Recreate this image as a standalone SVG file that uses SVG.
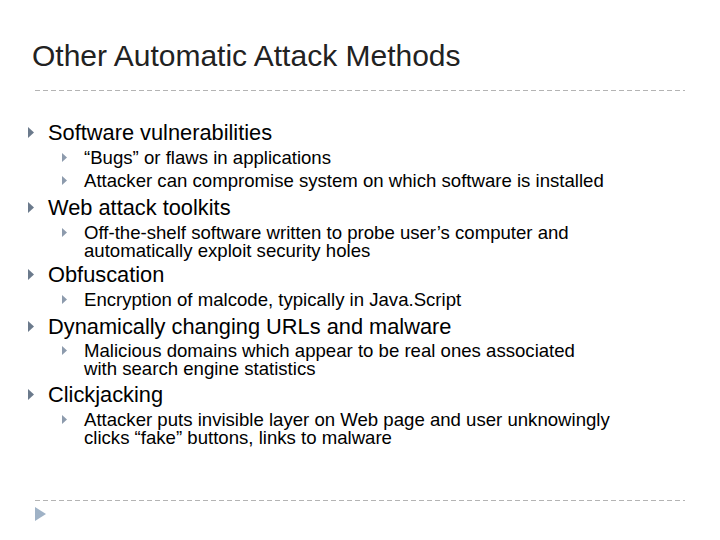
<svg xmlns="http://www.w3.org/2000/svg" width="720" height="540" viewBox="0 0 720 540">
<style>
text{font-family:"Liberation Sans",Arial,sans-serif;fill:#000}
.t{font-size:30px;fill:#222}
.l1{font-size:21.8px}
.l2{font-size:18.6px}
.b1{fill:#6b7a8c}
.b2{fill:#8d9bad}
.d{stroke:#b4b4b4;stroke-width:1;stroke-dasharray:5,3;fill:none}
</style>
<rect width="720" height="540" fill="#fff"/>
<text class="t" x="32" y="66">Other Automatic Attack Methods</text>
<path class="d" d="M35 90.5H685M35 500.5H685"/>
<path d="M35 507L46 514L35 521Z" fill="#9fb2c6"/>
<g id="bullets">
<path class="b1" d="M28 127L34 132.5L28 138Z"/>
<text class="l1" x="48" y="140">Software vulnerabilities</text>
<path class="b2" d="M62 153L67 157.5L62 162Z"/>
<text class="l2" x="84" y="164">“Bugs” or flaws in applications</text>
<path class="b2" d="M62 176L67 180.5L62 185Z"/>
<text class="l2" x="84" y="187">Attacker can compromise system on which software is installed</text>
<path class="b1" d="M28 202L34 207.5L28 213Z"/>
<text class="l1" x="48" y="215">Web attack toolkits</text>
<path class="b2" d="M62 228L67 232.5L62 237Z"/>
<text class="l2" x="84" y="239">Off-the-shelf software written to probe user’s computer and</text>
<text class="l2" x="84" y="257">automatically exploit security holes</text>
<path class="b1" d="M28 269L34 274.5L28 280Z"/>
<text class="l1" x="48" y="282">Obfuscation</text>
<path class="b2" d="M62 295L67 299.5L62 304Z"/>
<text class="l2" x="84" y="306">Encryption of malcode, typically in Java.Script</text>
<path class="b1" d="M28 321L34 326.5L28 332Z"/>
<text class="l1" x="48" y="334">Dynamically changing URLs and malware</text>
<path class="b2" d="M62 346L67 350.5L62 355Z"/>
<text class="l2" x="84" y="357">Malicious domains which appear to be real ones associated</text>
<text class="l2" x="84" y="375">with search engine statistics</text>
<path class="b1" d="M28 389L34 394.5L28 400Z"/>
<text class="l1" x="48" y="402">Clickjacking</text>
<path class="b2" d="M62 415L67 419.5L62 424Z"/>
<text class="l2" x="84" y="426">Attacker puts invisible layer on Web page and user unknowingly</text>
<text class="l2" x="84" y="444">clicks “fake” buttons, links to malware</text>
</g>
</svg>
